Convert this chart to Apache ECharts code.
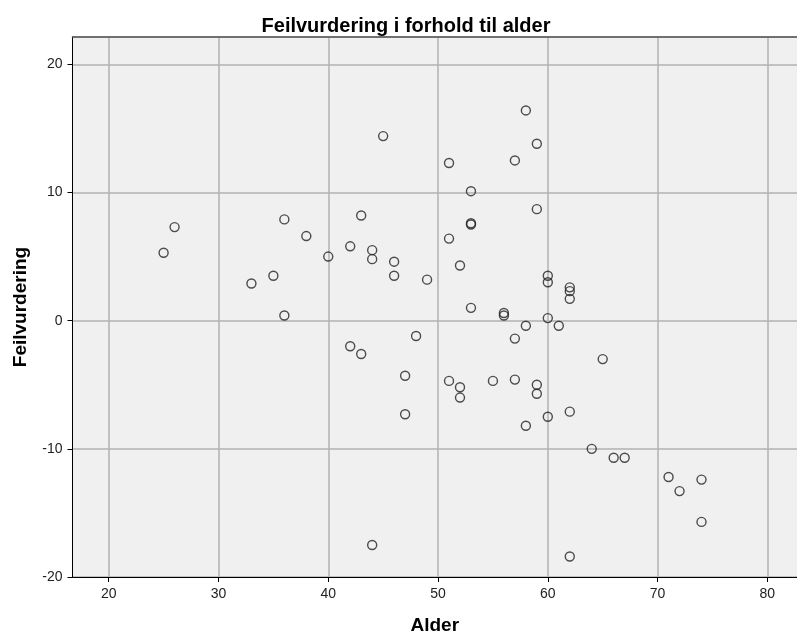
<!DOCTYPE html>
<html>
<head>
<meta charset="utf-8">
<title>Feilvurdering i forhold til alder</title>
<script src="https://cdn.jsdelivr.net/npm/echarts@6/dist/echarts.min.js"></script>
<style>
  html, body { margin: 0; padding: 0; background: #ffffff; }
  #chart { width: 797px; height: 634px; }
</style>
</head>
<body>
<div id="chart"></div>
<script>
// Age of each respondent and their estimation error (Feilvurdering)
const alder = [
  25, 26, 33, 35, 36, 36, 38, 40, 42, 42,
  43, 43, 44, 44, 44, 45, 46, 46, 47, 47,
  48, 49, 51, 51, 51, 52, 52, 52, 53, 53,
  53, 53, 55, 56, 56, 57, 57, 57, 58, 58,
  58, 59, 59, 59, 59, 60, 60, 60, 60, 61,
  62, 62, 62, 62, 62, 64, 65, 66, 67, 71,
  72, 74, 74
];
const feilvurdering = [
  5.3, 7.3, 2.9, 3.5, 7.9, 0.4, 6.6, 5.0, 5.8, -2.0,
  8.2, -2.6, 5.5, 4.8, -17.5, 14.4, 4.6, 3.5, -4.3, -7.3,
  -1.2, 3.2, 12.3, 6.4, -4.7, 4.3, -5.2, -6.0, 10.1, 7.5,
  7.6, 1.0, -4.7, 0.6, 0.4, 12.5, -1.4, -4.6, 16.4, -0.4,
  -8.2, 13.8, 8.7, -5.0, -5.7, 3.5, 3.0, 0.2, -7.5, -0.4,
  2.6, 2.3, 1.7, -7.1, -18.4, -10.0, -3.0, -10.7, -10.7, -12.2,
  -13.3, -12.4, -15.7
];

// Axis ticks and ranges
const xTicks = [20, 30, 40, 50, 60, 70, 80];
const xRange = [16.7, 82.7];
const yRange = [-20, 22.13];
const yStep = 10;

const points = alder.map((a, i) => [a, feilvurdering[i]]);

const FONT = '"Liberation Sans", Arial, sans-serif';

const chart = echarts.init(document.getElementById('chart'), null, { renderer: 'canvas' });

chart.setOption({
  animation: false,
  backgroundColor: '#ffffff',
  title: {
    text: 'Feilvurdering i forhold til alder',
    left: 401,
    top: 11,
    textAlign: 'center',
    textStyle: { fontFamily: FONT, fontSize: 20, fontWeight: 'bold', color: '#000' }
  },
  grid: {
    left: 72.5, right: 0, top: 37, bottom: 57,
    containLabel: false,
    outerBoundsMode: 'none',
    show: true, backgroundColor: '#f0f0f0', borderWidth: 0
  },
  xAxis: [{
    type: 'value',
    min: xRange[0], max: xRange[1],
    name: 'Alder',
    nameLocation: 'middle',
    nameGap: 39,
    nameTextStyle: { fontFamily: FONT, fontSize: 19, fontWeight: 'bold', color: '#000' },
    axisLine: { show: true, onZero: false, lineStyle: { color: '#000', width: 1 } },
    axisTick: { show: true, inside: false, length: 5, customValues: xTicks, lineStyle: { color: '#000', width: 1 } },
    axisLabel: { customValues: xTicks, margin: 10, fontFamily: FONT, fontSize: 14, color: '#222' },
    splitLine: { show: true, lineStyle: { color: '#b2b2b2', width: 1.5 } }
  }, {
    type: 'value',
    position: 'top',
    min: xRange[0], max: xRange[1],
    axisLine: { show: true, onZero: false, lineStyle: { color: '#555', width: 1.5 } },
    axisTick: { show: false },
    axisLabel: { show: false },
    splitLine: { show: false }
  }],
  yAxis: {
    type: 'value',
    min: yRange[0], max: yRange[1], interval: yStep,
    name: 'Feilvurdering',
    nameLocation: 'middle',
    nameGap: 42,
    nameRotate: 90,
    nameTextStyle: { fontFamily: FONT, fontSize: 19, fontWeight: 'bold', color: '#000' },
    axisLine: { show: true, onZero: false, lineStyle: { color: '#000', width: 1 } },
    axisTick: { show: true, inside: false, length: 5, lineStyle: { color: '#000', width: 1 } },
    axisLabel: { margin: 10, fontFamily: FONT, fontSize: 14, color: '#222', showMaxLabel: false },
    splitLine: { show: true, lineStyle: { color: '#b2b2b2', width: 1.5 } }
  },
  series: [{
    type: 'scatter',
    xAxisIndex: 0,
    data: points,
    symbol: 'circle',
    symbolSize: 9,
    itemStyle: { color: 'rgba(0,0,0,0)', borderColor: '#222', borderWidth: 1.4 },
    emphasis: { disabled: true }
  }]
});
</script>
</body>
</html>
